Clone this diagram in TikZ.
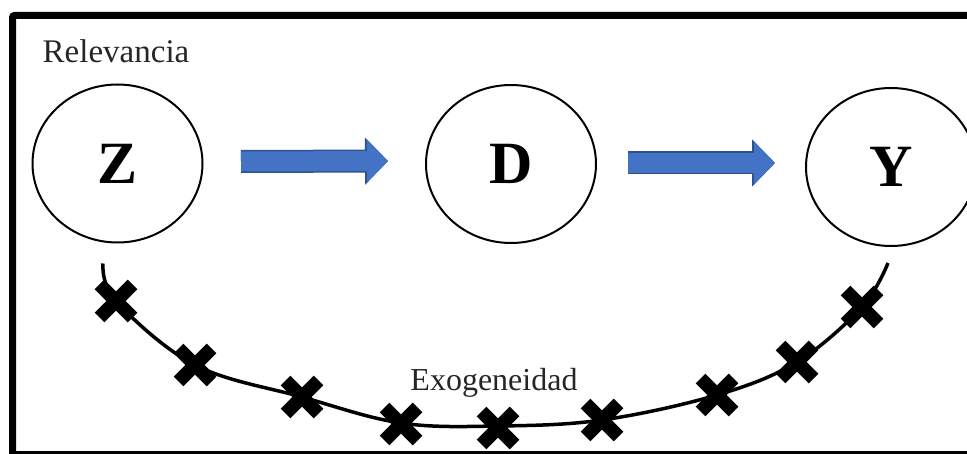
\documentclass[tikz,border=0pt]{standalone}
\usepackage{fontspec}
\setmainfont{Liberation Serif}
\usetikzlibrary{shapes.geometric, arrows.meta, calc}
\definecolor{flechaazul}{HTML}{4472C4}
\definecolor{flechaborde}{HTML}{2F528F}

\tikzset{
  var/.style={ellipse, draw, line width=2pt, minimum width=170pt, minimum height=158pt,
    inner sep=0pt, font=\fontsize{60}{60}\selectfont\bfseries},
  flecha/.style={draw=flechaazul, line width=20pt, -{Triangle[length=21pt,width=42pt]},
    preaction={draw=flechaborde, line width=23pt, -{Triangle[length=23pt,width=46pt]}}},
  etiqueta/.style={font=\fontsize{32}{32}\selectfont, text=black!85},
  cruz/.pic={\draw[line width=13.5pt] (-16.5,-16.5)--(16.5,16.5) (-16.5,16.5)--(16.5,-16.5);}
}

\begin{document}
\begin{tikzpicture}[x=1pt, y=-1pt]
    \useasboundingbox (0,0) rectangle (967,454);
    \clip (0,0) rectangle (967,454);

    \node[var] (Z) at (117.5,163.5) {Z};
    \node[var] (D) at (511,164) {D};
    \node[var] (Y) at (891,167) {Y};

    \node[etiqueta, anchor=base, font=\fontsize{33}{33}\selectfont] (rel) at (116,63) {Relevancia};
    \node[etiqueta, anchor=base] (exo) at (494,391) {Exogeneidad};

    % flechas de relevancia
    \draw[flecha, shorten <=37.5pt, shorten >=37pt] ($(Z.east)+(0,-2)$) -- ($(D.west)+(0,-3)$);
    \draw[flecha, shorten <=31pt, shorten >=30pt] ($(D.east)+(0,-1)$) -- ($(Y.west)+(0,-4)$);

    % curva de exogeneidad
    \coordinate (exoI) at ($(Z.south)+(-14.5,20)$);
    \coordinate (exoF) at ($(Y.south)+(-3,16)$);
    \draw[line width=3.5pt] plot[smooth, tension=0.6] coordinates
        {(exoI) (116,301) (195,365) (302,397) (401,423) (498,426) (602,420) (717,395) (797,362) (862,307) (exoF)};

    \foreach \x/\y in {116/301,195/365,302/397,401/424,498/428,602/420,717/395,797/362,862/307} {
    \pic at (\x,\y) {cruz};}

    % marco
    \draw[line width=7pt, rounded corners=2pt] (12.5,15.5) rectangle (990,454.5);
\end{tikzpicture}
\end{document}
